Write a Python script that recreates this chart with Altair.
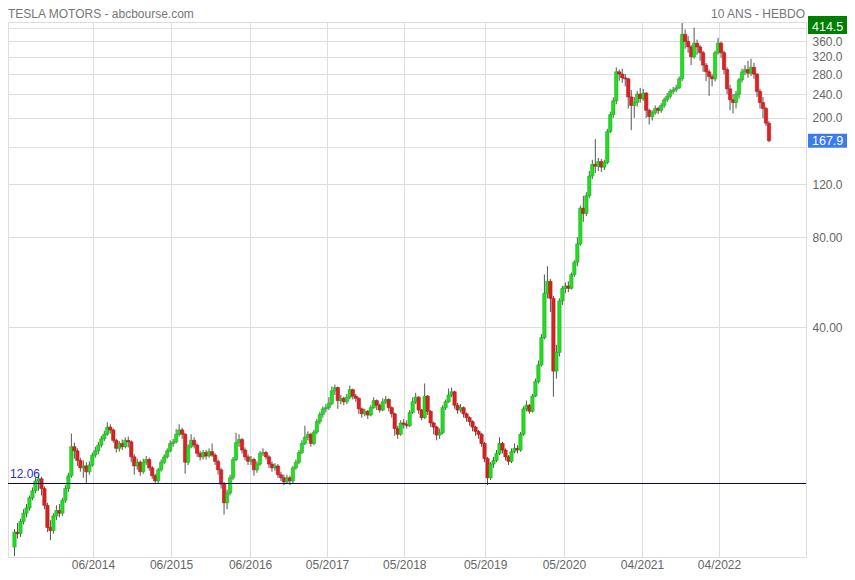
import altair as alt
import pandas as pd

# ---------------- data ----------------
first_open = 7.4
closes = [
    8.3, 8.2, 9.0, 9.6, 10.0, 10.8, 11.4, 12.3, 12.5, 11.6,
    10.2, 8.6, 8.4, 9.4, 9.8, 9.6, 10.6, 11.6, 12.8, 16.0,
    15.5, 14.4, 13.6, 13.8, 13.2, 13.9, 15.0, 15.5, 16.2, 17.0,
    17.6, 18.6, 18.2, 16.8, 15.8, 16.4, 16.0, 16.8, 16.6, 14.8,
    13.8, 14.2, 13.2, 14.2, 14.5, 13.6, 12.8, 12.3, 13.4, 14.2,
    14.8, 15.5, 16.4, 16.6, 17.6, 18.2, 17.6, 14.2, 16.0, 16.8,
    16.2, 15.2, 14.8, 15.3, 14.9, 15.4, 15.0, 14.3, 13.4, 12.0,
    10.4, 11.2, 12.6, 14.5, 16.5, 16.9, 15.6, 14.8, 14.3, 14.5,
    13.4, 14.0, 15.2, 15.3, 14.8, 14.0, 13.6, 13.8, 12.9, 12.6,
    12.2, 12.6, 12.3, 13.6, 14.2, 15.3, 16.4, 17.2, 17.6, 16.4,
    17.9, 19.4, 20.5, 21.4, 21.6, 22.3, 24.6, 25.2, 22.8, 23.2,
    22.6, 23.4, 24.8, 23.6, 23.2, 21.4, 20.6, 21.0, 20.4, 21.6,
    22.8, 22.0, 21.2, 22.6, 23.0, 21.6, 20.6, 18.4, 17.6, 19.2,
    19.0, 18.8, 20.8, 22.6, 23.4, 21.2, 20.0, 23.6, 21.0, 19.2,
    18.6, 17.5, 17.8, 21.6, 22.6, 23.8, 24.4, 22.0, 21.2, 21.6,
    20.6, 20.0, 19.4, 18.6, 18.0, 17.6, 16.4, 14.6, 12.6, 14.0,
    14.4, 15.2, 16.4, 15.6, 14.8, 14.3, 15.4, 15.8, 15.6, 17.6,
    21.4, 22.0, 21.0, 23.6, 26.4, 30.0, 37.0, 52.0, 57.0, 50.0,
    28.6, 33.0, 49.0, 54.0, 55.0, 54.0, 60.0, 66.0, 76.0, 100.0,
    96.0, 110.0, 128.0, 140.0, 138.0, 143.0, 137.0, 142.0, 180.0, 205.0,
    228.0, 285.0, 280.0, 272.0, 270.0, 235.0, 220.0, 225.0, 240.0, 232.0,
    242.0, 212.0, 202.0, 208.0, 215.0, 212.0, 220.0, 230.0, 236.0, 245.0,
    248.0, 252.0, 270.0, 380.0, 360.0, 345.0, 320.0, 355.0, 345.0, 330.0,
    300.0, 285.0, 275.0, 270.0, 330.0, 355.0, 330.0, 290.0, 250.0, 230.0,
    225.0, 240.0, 268.0, 285.0, 290.0, 282.0, 295.0, 280.0, 245.0, 225.0,
    215.0, 192.0, 167.9,
]
highs = [
    8.5, 8.9, 9.2, 9.9, 10.3, 11.0, 11.7, 12.6, 12.9, 12.7,
    11.8, 10.4, 9.1, 9.6, 10.2, 10.3, 10.8, 11.9, 13.1, 17.7,
    16.5, 15.8, 14.7, 14.4, 14.2, 14.3, 15.3, 16.0, 16.6, 17.4,
    18.1, 19.3, 19.0, 18.4, 17.0, 16.7, 16.9, 17.2, 17.3, 16.8,
    15.1, 14.6, 14.4, 14.6, 14.9, 14.7, 13.8, 13.0, 13.6, 14.5,
    15.1, 15.8, 16.8, 17.0, 18.3, 19.0, 18.5, 17.8, 16.3, 17.6,
    17.2, 16.4, 15.5, 15.6, 15.6, 15.8, 16.4, 15.2, 14.5, 13.6,
    12.2, 11.5, 12.9, 14.8, 17.8, 17.6, 17.1, 15.9, 15.1, 14.9,
    14.7, 14.3, 15.5, 15.8, 15.5, 15.0, 14.3, 14.1, 14.0, 13.2,
    12.9, 12.9, 12.8, 13.8, 14.5, 15.6, 16.8, 18.8, 18.0, 17.8,
    18.2, 19.8, 20.9, 21.8, 22.2, 23.4, 25.4, 25.8, 25.4, 23.8,
    23.5, 24.0, 25.6, 25.0, 24.0, 23.4, 21.6, 21.4, 21.2, 22.0,
    23.4, 23.0, 22.3, 23.2, 23.6, 23.2, 21.8, 20.8, 18.8, 19.6,
    19.8, 19.6, 21.2, 23.4, 24.2, 23.6, 21.4, 26.0, 23.8, 21.2,
    19.4, 18.8, 18.4, 22.0, 23.0, 25.0, 25.2, 24.6, 22.4, 22.2,
    21.8, 20.8, 20.2, 19.6, 18.8, 18.2, 17.8, 16.6, 14.8, 14.2,
    14.8, 15.6, 17.2, 16.6, 15.8, 15.0, 15.8, 16.4, 16.2, 17.9,
    21.8, 22.8, 22.2, 24.0, 27.0, 31.0, 38.0, 60.0, 64.0, 58.0,
    51.0, 35.0, 50.0, 55.0, 56.5, 57.0, 61.0, 67.0, 80.0, 102.0,
    110.0, 113.0, 133.0, 145.0, 170.0, 147.0, 146.0, 145.0, 184.0, 210.0,
    234.0, 295.0, 290.0, 292.0, 280.0, 272.0, 248.0, 235.0, 246.0, 252.0,
    250.0, 244.0, 215.0, 212.0, 220.0, 218.0, 224.0, 234.0, 242.0, 250.0,
    254.0, 258.0, 275.0, 414.5, 395.0, 375.0, 350.0, 400.0, 365.0, 350.0,
    335.0, 305.0, 290.0, 280.0, 335.0, 370.0, 360.0, 335.0, 295.0, 258.0,
    240.0, 246.0, 272.0, 292.0, 300.0, 310.0, 315.0, 305.0, 282.0, 250.0,
    235.0, 218.0, 195.0,
]
lows = [
    6.9, 7.9, 8.0, 8.8, 9.3, 9.8, 10.6, 11.2, 11.4, 11.0,
    9.9, 8.3, 7.8, 8.2, 9.1, 9.3, 9.4, 10.4, 11.3, 12.6,
    14.6, 13.8, 13.2, 12.6, 12.1, 12.9, 13.7, 14.7, 15.1, 15.9,
    16.7, 17.4, 17.7, 16.5, 15.3, 15.4, 15.6, 15.8, 15.9, 14.2,
    12.9, 13.4, 12.8, 13.0, 13.9, 13.3, 12.5, 12.0, 12.1, 13.2,
    14.0, 14.6, 15.3, 16.0, 16.4, 17.3, 17.0, 13.0, 13.9, 15.8,
    15.8, 14.8, 14.4, 14.5, 14.5, 14.7, 14.8, 13.9, 12.9, 11.6,
    9.5, 9.9, 11.0, 12.4, 14.3, 16.0, 15.2, 14.4, 13.9, 13.9,
    12.8, 13.1, 13.8, 14.9, 14.5, 13.6, 13.2, 13.3, 12.6, 12.3,
    11.9, 12.0, 11.9, 12.1, 13.4, 14.0, 15.1, 16.2, 16.8, 16.0,
    16.2, 17.6, 19.0, 20.0, 20.8, 21.2, 22.0, 23.8, 21.4, 22.2,
    22.0, 22.2, 23.0, 23.0, 22.6, 20.6, 20.0, 20.2, 19.8, 20.2,
    21.4, 21.2, 20.8, 21.0, 22.2, 21.0, 20.0, 17.4, 17.0, 17.4,
    18.4, 18.4, 18.6, 20.6, 22.2, 20.6, 19.6, 19.8, 20.4, 18.6,
    17.6, 16.8, 17.0, 17.6, 21.2, 22.4, 23.4, 21.4, 20.6, 20.8,
    20.0, 19.4, 18.8, 18.0, 17.4, 17.0, 16.0, 14.2, 11.9, 12.4,
    13.6, 14.2, 15.0, 15.2, 14.4, 13.9, 14.1, 15.2, 15.2, 15.4,
    17.4, 21.0, 20.6, 20.8, 23.4, 26.0, 29.6, 36.5, 50.0, 45.0,
    23.5, 27.0, 32.0, 47.5, 52.0, 52.5, 53.5, 59.0, 64.0, 75.0,
    90.0, 94.0, 108.0, 125.0, 131.0, 133.0, 132.0, 134.0, 140.0, 178.0,
    200.0, 222.0, 266.0, 262.0, 255.0, 215.0, 182.0, 200.0, 218.0, 225.0,
    228.0, 200.0, 190.0, 196.0, 205.0, 206.0, 208.0, 216.0, 226.0, 232.0,
    240.0, 244.0, 250.0, 265.0, 340.0, 330.0, 300.0, 315.0, 325.0, 310.0,
    285.0, 265.0, 237.0, 255.0, 265.0, 325.0, 318.0, 280.0, 240.0, 212.0,
    207.0, 215.0, 232.0, 262.0, 278.0, 272.0, 276.0, 270.0, 235.0, 215.0,
    200.0, 188.0, 166.0,
]
assert len(closes) == len(highs) == len(lows)

x_tick_pos = [26.2, 52.3, 78.7, 104.4, 130.2, 157.2, 183.5, 209.6, 235.3]
x_tick_labels = ["06/2014", "06/2015", "06/2016", "05/2017", "05/2018",
                 "05/2019", "05/2020", "04/2021", "04/2022"]
y_ticks = [40, 80, 120, 160, 200, 240, 280, 320, 360, 400]
y_tick_labels = ["40.00", "80.00", "120.0", "", "200.0", "240.0", "280.0",
                 "320.0", "360.0", ""]
ref_level = 12.06
last_high = 414.5
last_close = 167.9

# ---------------- build table ----------------
opens = [first_open] + closes[:-1]
df = pd.DataFrame({
    "i": list(range(len(closes))),
    "open": opens, "close": closes, "high": highs, "low": lows,
})
df["dir"] = ["up" if c >= o else "down" for o, c in zip(opens, closes)]

W, H = 798, 535
FONT = "Liberation Sans"
xscale = alt.Scale(domain=[-0.495, 262.7], nice=False, zero=False)
yscale = alt.Scale(type="log", domain=[6.857, 417.8], nice=False)

x_expr = "{}[indexof({}, datum.value)]".format(
    "[" + ",".join("'%s'" % s for s in x_tick_labels) + "]",
    "[" + ",".join(str(v) for v in x_tick_pos) + "]")
y_expr = "{}[indexof({}, datum.value)]".format(
    "[" + ",".join("'%s'" % s for s in y_tick_labels) + "]",
    "[" + ",".join(str(v) for v in y_ticks) + "]")

x_axis = alt.Axis(values=x_tick_pos, labelExpr=x_expr, grid=True, ticks=False,
                  domain=False, title=None, labelPadding=7, labelFontSize=12,
                  labelColor="#666666", labelFont=FONT, gridColor="#dedede",
                  labelBaseline="middle", labelFlush=False, labelOverlap=False)
y_axis = alt.Axis(values=y_ticks, labelExpr=y_expr, orient="right", grid=True,
                  ticks=False, domain=False, title=None, labelPadding=6,
                  labelFontSize=12, labelColor="#666666", labelFont=FONT,
                  gridColor="#dedede", labelAlign="left", labelFlush=False,
                  labelOverlap=False)

X = alt.X("i:Q", scale=xscale, axis=x_axis)

base = alt.Chart(df)

wicks = base.mark_rule(color="#555555", strokeWidth=1).encode(
    x=X,
    y=alt.Y("low:Q", scale=yscale, axis=y_axis),
    y2="high:Q",
)

bodies = base.mark_bar(size=3.4, strokeWidth=0.5).encode(
    x=X,
    y=alt.Y("open:Q", scale=yscale, axis=y_axis),
    y2="close:Q",
    color=alt.Color("dir:N", scale=alt.Scale(domain=["up", "down"],
                    range=["#22dd22", "#dd2020"]), legend=None),
    stroke=alt.Stroke("dir:N", scale=alt.Scale(domain=["up", "down"],
                      range=["#15a815", "#a81515"]), legend=None),
)

ref_df = pd.DataFrame({"v": [ref_level], "t": ["%.2f" % ref_level]})
ref_line = alt.Chart(ref_df).mark_rule(color="#000080", strokeWidth=1).encode(
    y=alt.Y("v:Q", scale=yscale, axis=y_axis))
ref_text = alt.Chart(ref_df).mark_text(
    align="left", baseline="bottom", dy=-2, fontSize=12, font=FONT,
    color="#2a2ad0").encode(
    x=alt.value(2), y=alt.Y("v:Q", scale=yscale, axis=y_axis), text="t:N")

f = 1.0553
hi_df = pd.DataFrame({"p": [last_high], "t": ["%.1f" % last_high]})
lo_df = pd.DataFrame({"p": [last_close], "t": ["%.1f" % last_close]})


def price_box(d, fill, yoff):
    c = alt.Chart(d).transform_calculate(
        lo="datum.p / %f" % f, hi="datum.p * %f" % f)
    box = c.mark_rect(color=fill, yOffset=yoff).encode(
        x=alt.value(800), x2=alt.value(839),
        y=alt.Y("lo:Q", scale=yscale, axis=y_axis), y2="hi:Q")
    txt = c.mark_text(align="left", baseline="middle", fontSize=12.5,
                      font=FONT, color="white", yOffset=yoff).encode(
        x=alt.value(804), y=alt.Y("p:Q", scale=yscale, axis=y_axis),
        text="t:N")
    return box + txt


title_df = pd.DataFrame({"a": ["TESLA MOTORS - abcbourse.com"],
                         "b": ["10 ANS - HEBDO"]})
title_l = alt.Chart(title_df).mark_text(
    align="left", baseline="alphabetic", fontSize=12, font=FONT,
    color="#777777").encode(x=alt.value(0), y=alt.value(-4), text="a:N")
title_r = alt.Chart(title_df).mark_text(
    align="right", baseline="alphabetic", fontSize=12, font=FONT,
    color="#777777").encode(x=alt.value(797), y=alt.value(-4), text="b:N")

chart = alt.layer(
    wicks, bodies, ref_line, ref_text,
    price_box(hi_df, "#008000", 4), price_box(lo_df, "#3b7bf0", 0),
    title_l, title_r,
).properties(
    width=W, height=H,
    autosize=alt.AutoSizeParams(type="none"),
    padding={"left": 0, "top": 14, "right": 41, "bottom": 15},
).configure_view(stroke="#d4d4d4", strokeWidth=1).configure(background="white")

chart.save("out.html", embed_options={"renderer": "svg", "actions": False})
